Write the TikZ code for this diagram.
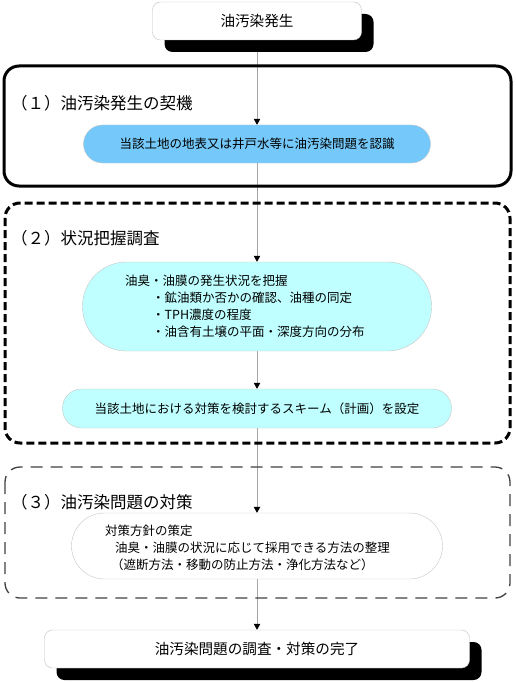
\documentclass[tikz,border=0pt]{standalone}
\usepackage{fontspec}
\setmainfont{Noto Sans CJK JP}
\usepackage{tikz}
\usetikzlibrary{shapes,arrows,positioning,calc,shadows,backgrounds,arrows.meta}
\definecolor{skyfill}{RGB}{117,201,250}
\definecolor{aquafill}{RGB}{192,255,255}
\definecolor{flowgray}{RGB}{165,165,165}

\begin{document}
\begin{tikzpicture}[x=1pt,y=-1pt,
    box/.style={draw=gray!50,fill=white,rounded corners=8pt,inner sep=0pt,font=\fontsize{14.6}{17}\selectfont},
    shadowed/.style={drop shadow={shadow xshift=12pt,shadow yshift=-12pt,fill=black,opacity=1}},
    pill/.style={draw=gray!45,inner sep=0pt,font=\fontsize{12.5}{17}\selectfont},
    title/.style={anchor=west,inner sep=0pt,font=\fontsize{16.5}{20}\selectfont},
    body/.style={anchor=west,inner sep=0pt,align=left,font=\fontsize{12.5}{17}\selectfont},
    flow/.style={draw=flowgray,line width=0.8pt,-{Triangle[length=6pt,width=6.5pt,color=black]}}]
    \useasboundingbox (0,0) rectangle (515,682);
    \draw[line width=3pt,rounded corners=15pt] (4,66) rectangle (511,186);
    \draw[line width=3pt,rounded corners=15pt,dash pattern=on 8pt off 4pt] (5,203) rectangle (510,443);
    \draw[line width=1.3pt,rounded corners=15pt,draw=black!75,dash pattern=on 12pt off 8pt] (5,467) rectangle (510,598);

    \node[box,shadowed,minimum width=209,minimum height=38] (start) at (257,21) {油汚染発生};

    \node[title] (t1) at (11,103) {（１）油汚染発生の契機};
    \node[pill,fill=skyfill,rounded corners=19pt,minimum width=347,minimum height=38] (p1) at (257,144) {当該土地の地表又は井戸水等に油汚染問題を認識};

    \node[title] (t2) at (11,238) {（２）状況把握調査};
    \node[pill,fill=aquafill,rounded corners=44pt,minimum width=349,minimum height=89] (p2) at (257,306.5) {};
    \node[body] (b2) at (125,306.5) {油臭・油膜の発生状況を把握\\
        \hspace*{27pt}・鉱油類か否かの確認、油種の同定\\
        \hspace*{27pt}・TPH濃度の程度\\
        \hspace*{27pt}・油含有土壌の平面・深度方向の分布};
    \node[pill,fill=aquafill,rounded corners=19pt,minimum width=389,minimum height=39] (p3) at (257,408.5) {当該土地における対策を検討するスキーム（計画）を設定};

    \node[title] (t3) at (11,502) {（３）油汚染問題の対策};
    \node[pill,fill=white,rounded corners=33pt,minimum width=371,minimum height=66] (p4) at (257,546) {};
    \node[body] (b4) at (105,548) {対策方針の策定\\
        \hspace*{10pt}油臭・油膜の状況に応じて採用できる方法の整理\\
        \hspace*{6pt}（遮断方法・移動の防止方法・浄化方法など）};

    \node[box,shadowed,minimum width=425,minimum height=38] (end) at (257,649) {油汚染問題の調査・対策の完了};

    \begin{scope}[on background layer]
        \draw[flow] (start) -- (p1);
        \draw[flow] (p1) -- (p2);
        \draw[flow] (p2) -- (p3);
        \draw[flow] (p3) -- (p4);
        \draw[flow] (p4) -- (end);
    \end{scope}
\end{tikzpicture}
\end{document}
